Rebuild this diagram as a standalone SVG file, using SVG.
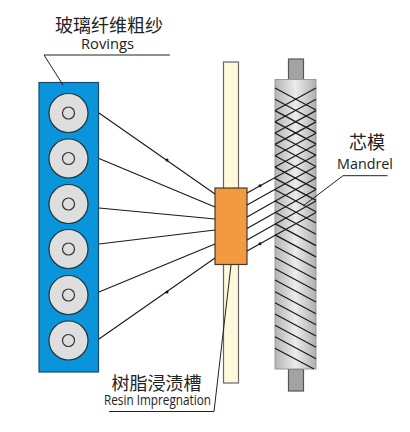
<svg xmlns="http://www.w3.org/2000/svg" width="410" height="432" viewBox="0 0 410 432">
<style>
.ln{fill:none;stroke:#1a1a1a;stroke-width:1.1}
.wd{fill:none;stroke:#1a1a1a;stroke-width:1.2}
.ld{fill:none;stroke:#222;stroke-width:1}
.sp{fill:#dedede;stroke:#233;stroke-width:1.2}
.hub{fill:#dedede;stroke:#333;stroke-width:1.2}
.dot{fill:#111}
.cn{font-family:"Noto Sans CJK SC",sans-serif;font-size:18px;fill:#222;text-anchor:middle}
.en{font-family:"Open Sans",sans-serif;font-size:15px;fill:#222;text-anchor:middle}
.cap{fill:#a3a3a3;stroke:#555;stroke-width:1.2}
</style>
<defs>
<linearGradient id="m" x1="0" x2="1" y1="0" y2="0"><stop offset="0" stop-color="#b4b4b4"/><stop offset=".5" stop-color="#ececec"/><stop offset="1" stop-color="#b0b0b0"/></linearGradient>
<g id="spool"><circle r="19.5" class="sp"/><circle r="6" class="hub"/></g>
</defs>
<g id="rovings">
<rect x="39" y="82.5" width="59.5" height="289.500" fill="#0a94dc" stroke="#1d4a66" stroke-width="1.2"/>
<use href="#spool" x="68.500" y="113"/><use href="#spool" x="68.500" y="158.500"/><use href="#spool" x="68.500" y="204"/><use href="#spool" x="68.500" y="249"/><use href="#spool" x="68.500" y="295"/><use href="#spool" x="68.500" y="340.500"/>
</g>
<g id="mandrel">
<rect x="288.500" y="59" width="15" height="21" class="cap"/>
<rect x="288.500" y="369" width="15" height="22" class="cap"/>
<rect x="275" y="79.500" width="41" height="289.500" fill="url(#m)" stroke="#999" stroke-width="1"/>
</g>
<g id="resin-bath">
<rect x="223.500" y="62" width="15" height="321" fill="#fff9dc" stroke="#666" stroke-width="1.200"/>
<rect x="215" y="188" width="32" height="76.500" fill="#f39a41" stroke="#4a3a2a" stroke-width="1.200"/>
</g>
<g id="connectors">
<path class="ln" d="M99 113L215 194M99 158.500L215 207M99 208L215 219M99 244L215 230M99 292L215 244M99 339L215 258"/>
<path class="wd" d="M247 193L316 155M247 205L316 166.500M247 217L316 178M247 228.500L316 189.500M247 240L316 201M247 251L316 212.500"/>
<path class="wd" d="M275 110.500L316 88M275 121.800L316 99.300M275 133L316 110.600M275 144.400L316 121.900M275 155.700L316 133.200M275 167L316 144.500"/>
<path class="wd" d="M275 88L316 110M275 99.300L316 121.300M275 110.600L316 132.600M275 121.900L316 143.900M275 133.200L316 155.200M275 144.500L316 166.500M275 155.800L316 177.800M275 167.100L316 189.100M275 178.400L316 200.400M275 189.700L316 211.700M275 201L316 223M275 212.300L316 234.300M275 223.600L316 245.600M275 234.900L316 256.900M275 246.200L316 268.200M275 257.500L316 279.500M275 268.800L316 290.800M275 280L316 302M275 291.700L316 313.700M275 302.700L316 324.700M275 314L316 336M275 325.300L316 347.300M275 336.700L316 358.700M275 348.300L314 369"/>
<circle class="dot" cx="167" cy="160" r="1.500"/><circle class="dot" cx="167" cy="292" r="1.500"/><circle class="dot" cx="260" cy="185.800" r="1.500"/><circle class="dot" cx="260" cy="243.800" r="1.500"/>
<path class="ld" d="M170 55H44L63 85"/>
<path class="ld" d="M387.500 175.700H343L303 206"/>
<path class="ld" d="M109 411.500H214L231 265"/>
</g>
<g id="labels">
<text class="cn" x="109" y="32">玻璃纤维粗纱</text>
<text class="en" x="107.500" y="48.500" textLength="53" lengthAdjust="spacingAndGlyphs">Rovings</text>
<text class="cn" x="367" y="149">芯模</text>
<text class="en" x="365" y="168.500" textLength="56" lengthAdjust="spacingAndGlyphs">Mandrel</text>
<text class="cn" x="156.500" y="390">树脂浸渍槽</text>
<text class="en" x="157.500" y="405" textLength="107" lengthAdjust="spacingAndGlyphs">Resin Impregnation</text>
</g>
</svg>
